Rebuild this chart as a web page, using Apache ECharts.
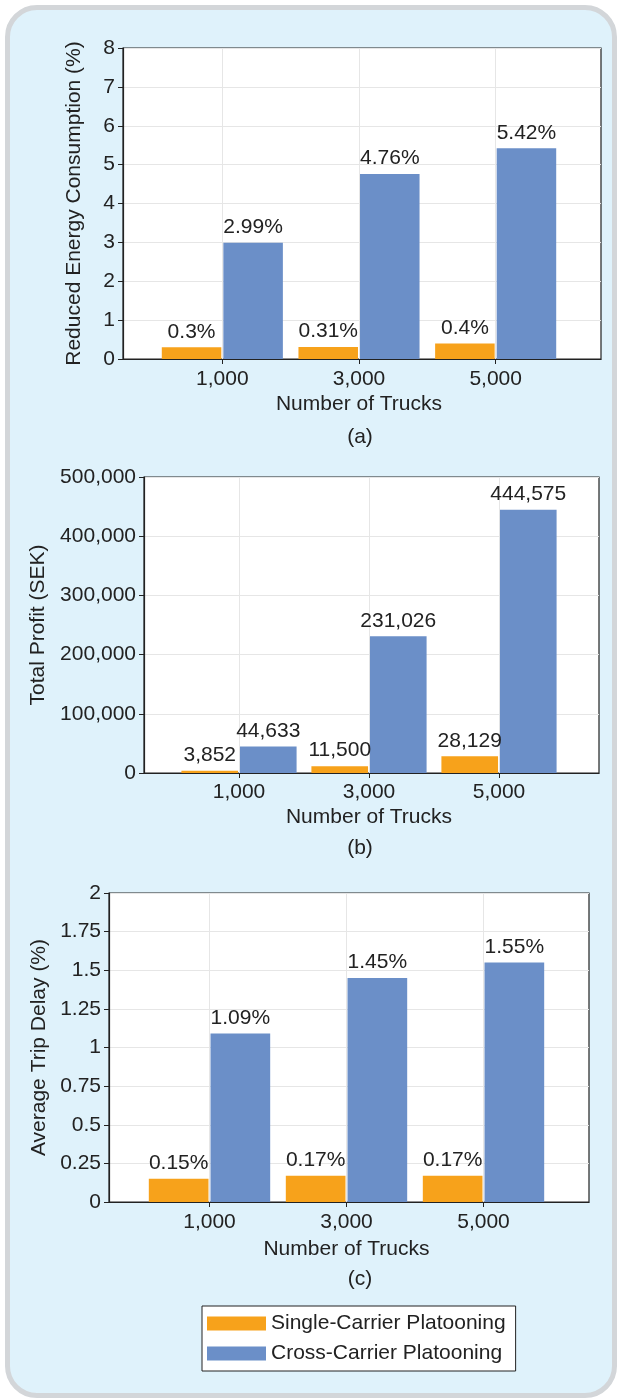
<!DOCTYPE html>
<html><head><meta charset="utf-8">
<script src="https://cdn.jsdelivr.net/npm/echarts@6/dist/echarts.min.js"></script>
<style>
html,body{margin:0;padding:0;background:#fff}
#panel{position:absolute;left:5px;top:5px;width:612px;height:1393px;box-sizing:border-box;border:5px solid #d3d6d9;border-radius:32px;background:#dff2fb}
#c{position:absolute;left:0;top:0;width:617px;height:1398px}
</style>
</head><body><div id="panel"></div><div id="c"></div><script>
// ---- data ----
const categories = ['1,000', '3,000', '5,000'];
const seriesNames = ['Single-Carrier Platooning', 'Cross-Carrier Platooning'];
const energySingle = [0.3, 0.31, 0.4];
const energyCross = [2.99, 4.76, 5.42];
const profitSingle = [3852, 11500, 28129];
const profitCross = [44633, 231026, 444575];
const delaySingle = [0.15, 0.17, 0.17];
const delayCross = [1.09, 1.45, 1.55];
const yTitles = ['Reduced Energy Consumption (%)', 'Total Profit (SEK)', 'Average Trip Delay (%)'];
const xTitle = 'Number of Trucks';
const captions = ['(a)', '(b)', '(c)'];

// ---- styling / layout ----
const FONT = 'Liberation Sans, Arial, Helvetica, sans-serif';
const TXT = '#222';
const ORANGE = '#f7a21b';
const BLUE = '#6b8fc8';
const FS = 21;
const comma = v => Number(v).toLocaleString('en-US');
const pct = v => v + '%';

const panels = [
  {frame: {l: 123, r: 601, t: 48, b: 359}, inner: {l: 154, r: 564}, max: 8, interval: 1,
   nameGap: 38, labelMargin: 10, xNameGap: 35, capY: 437, single: energySingle, cross: energyCross,
   fmt: pct, axisFmt: v => v},
  {frame: {l: 144, r: 599, t: 477, b: 773}, inner: {l: 174, r: 564}, max: 500000, interval: 100000,
   nameGap: 92, labelMargin: 9, xNameGap: 34, capY: 848, single: profitSingle, cross: profitCross,
   fmt: comma, axisFmt: comma},
  {frame: {l: 109, r: 589, t: 893, b: 1202}, inner: {l: 141, r: 552}, max: 2, interval: 0.25,
   nameGap: 57, labelMargin: 10, xNameGap: 37, capY: 1279, single: delaySingle, cross: delayCross,
   fmt: pct, axisFmt: v => v}
];

const grid = [], xAxis = [], yAxis = [], series = [], graphic = [];
panels.forEach((p, i) => {
  const h = p.frame.b - p.frame.t;
  grid.push({left: p.frame.l, top: p.frame.t, width: p.frame.r - p.frame.l, height: h,
    show: true, backgroundColor: '#fff', borderColor: '#222', borderWidth: 1.2,
    containLabel: false, outerBoundsMode: 'none'});
  grid.push({left: p.inner.l, top: p.frame.t, width: p.inner.r - p.inner.l, height: h,
    show: false, containLabel: false, outerBoundsMode: 'none'});
  xAxis.push({gridIndex: 2 * i, type: 'value', min: 0, max: 1,
    axisLine: {show: true, lineStyle: {color: '#222', width: 1.2}},
    axisTick: {show: false}, axisLabel: {show: false}, splitLine: {show: false}});
  xAxis.push({gridIndex: 2 * i + 1, type: 'category', data: categories, boundaryGap: true,
    name: xTitle, nameLocation: 'middle', nameGap: p.xNameGap,
    nameTextStyle: {fontSize: FS, color: TXT, fontFamily: FONT},
    axisLine: {show: false},
    axisTick: {show: true, alignWithLabel: true, length: 5, lineStyle: {color: '#222'}},
    axisLabel: {fontSize: FS, color: TXT, fontFamily: FONT, margin: p.labelMargin},
    splitLine: {show: true, alignWithLabel: true, lineStyle: {color: '#e6e6e6', width: 1}}});
  yAxis.push({gridIndex: 2 * i, type: 'value', min: 0, max: p.max, interval: p.interval,
    name: yTitles[i], nameLocation: 'middle', nameGap: p.nameGap, nameRotate: 90,
    nameTextStyle: {fontSize: FS, color: TXT, fontFamily: FONT},
    axisLine: {show: true, lineStyle: {color: '#222', width: 1.2}},
    axisTick: {show: true, length: 5, lineStyle: {color: '#222'}},
    axisLabel: {fontSize: FS, color: TXT, fontFamily: FONT, margin: 8, formatter: p.axisFmt},
    splitLine: {show: true, lineStyle: {color: '#e6e6e6', width: 1}}});
  yAxis.push({gridIndex: 2 * i + 1, type: 'value', min: 0, max: p.max, interval: p.interval, show: false,
    splitLine: {show: false}});
  [[p.single, ORANGE, 0], [p.cross, BLUE, 1]].forEach(([vals, col, k]) => {
    series.push({type: 'bar', name: seriesNames[k], xAxisIndex: 2 * i + 1, yAxisIndex: 2 * i + 1,
      data: vals, barCategoryGap: '11.4%', barGap: '3.4%',
      itemStyle: {color: col},
      label: {show: true, position: 'top', distance: 5, fontSize: FS, color: TXT, fontFamily: FONT,
        formatter: prm => p.fmt(prm.value)},
      emphasis: {disabled: true}});
  });
  graphic.push({type: 'text', x: 360, y: p.capY,
    style: {text: captions[i], fontSize: FS, fill: TXT, fontFamily: FONT, align: 'center', verticalAlign: 'middle'}});
});

const chart = echarts.init(document.getElementById('c'), null, {renderer: 'canvas'});
chart.setOption({
  backgroundColor: 'transparent',
  animation: false,
  textStyle: {fontFamily: FONT},
  grid, xAxis, yAxis, series, graphic,
  legend: {data: seriesNames, orient: 'vertical', left: 202, top: 1306,
    padding: [7, 10, 7, 5], itemWidth: 59, itemHeight: 14, itemGap: 9, icon: 'rect',
    backgroundColor: '#fff', borderColor: '#222', borderWidth: 1, borderRadius: 0,
    textStyle: {fontSize: FS, color: TXT, fontFamily: FONT}}
});
</script></body></html>
